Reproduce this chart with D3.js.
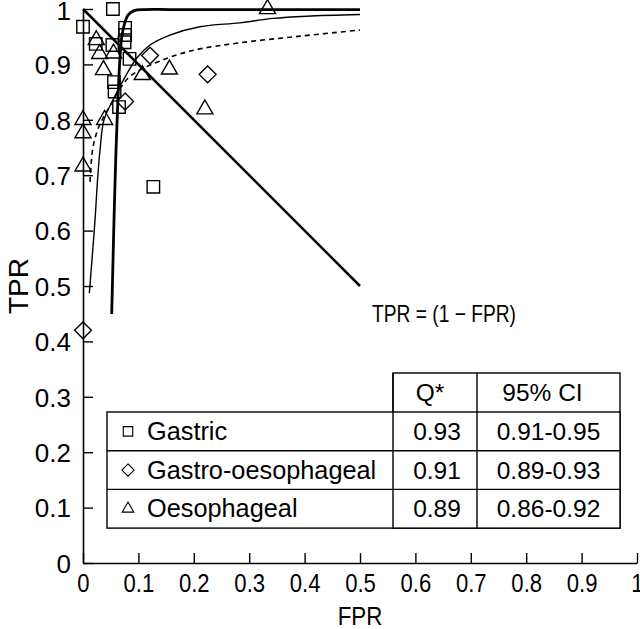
<!DOCTYPE html>
<html>
<head>
<meta charset="utf-8">
<script src="https://cdn.jsdelivr.net/npm/d3@7"></script>
<style>
  html, body { margin: 0; padding: 0; background: #fff; }
  svg { display: block; font-family: "Liberation Sans", Arial, Helvetica, sans-serif; }
</style>
</head>
<body>
<svg id="chart" width="640" height="629"></svg>
<script>
// ---------- DATA ----------
const xTicks = [0, 0.1, 0.2, 0.3, 0.4, 0.5, 0.6, 0.7, 0.8, 0.9, 1];
const yTicks = [0, 0.1, 0.2, 0.3, 0.4, 0.5, 0.6, 0.7, 0.8, 0.9, 1];
const xTickLabels = ["0", "0.1", "0.2", "0.3", "0.4", "0.5", "0.6", "0.7", "0.8", "0.9", "1"];
const yTickLabels = ["0", "0.1", "0.2", "0.3", "0.4", "0.5", "0.6", "0.7", "0.8", "0.9", "1"];

// Gastric studies (squares) [FPR, TPR]
const gastricPoints = [
  [0.000, 0.968], [0.054, 1.000], [0.076, 0.966], [0.076, 0.953], [0.075, 0.940],
  [0.023, 0.937], [0.053, 0.935], [0.084, 0.910], [0.056, 0.868], [0.057, 0.851],
  [0.065, 0.823], [0.127, 0.679]
];
// Gastro-oesophageal studies (diamonds)
const gastroOesPoints = [
  [0.000, 0.420], [0.076, 0.833], [0.121, 0.916], [0.225, 0.882]
];
// Oesophageal studies (triangles)
const oesPoints = [
  [0.333, 1.000], [0.000, 0.800], [0.000, 0.776], [0.000, 0.716],
  [0.024, 0.944], [0.030, 0.919], [0.055, 0.920], [0.037, 0.890],
  [0.107, 0.881], [0.156, 0.891], [0.220, 0.819], [0.039, 0.800]
];

// SROC curves [FPR, TPR]
const srocThick = [
  [0.0518, 0.4495], [0.0542, 0.547], [0.0569, 0.655], [0.0596, 0.745], [0.0623, 0.818],
  [0.0650, 0.881], [0.0677, 0.926], [0.0704, 0.953], [0.0749, 0.973], [0.0812, 0.989],
  [0.0920, 0.997], [0.112, 0.999], [0.157, 0.999], [0.5, 0.999]
];
const srocThin = [
  [0.0114, 0.487], [0.0162, 0.547], [0.0217, 0.619], [0.0262, 0.691], [0.0307, 0.745],
  [0.0379, 0.800], [0.0542, 0.836], [0.0758, 0.877], [0.0975, 0.912], [0.121, 0.935],
  [0.157, 0.953], [0.211, 0.968], [0.283, 0.975], [0.343, 0.983], [0.404, 0.987], [0.5, 0.990]
];
const srocDashed = [
  [0.0126, 0.688], [0.0171, 0.745], [0.0235, 0.773], [0.0307, 0.792], [0.0487, 0.825],
  [0.0812, 0.875], [0.115, 0.896], [0.144, 0.908], [0.175, 0.919], [0.211, 0.928],
  [0.283, 0.939], [0.392, 0.951], [0.5, 0.962]
];
const diagonalLine = [[0, 1], [0.5, 0.5]];
const diagonalLabel = "TPR = (1 \u2212 FPR)";

// Table
const tableHeader = ["", "Q*", "95% CI"];
const tableSeries = ["Gastric", "Gastro-oesophageal", "Oesophageal"];
const tableSymbols = ["square", "diamond", "triangle"];
const tableQ = ["0.93", "0.91", "0.89"];
const tableCI = ["0.91-0.95", "0.89-0.93", "0.86-0.92"];

// ---------- DRAW ----------
const svg = d3.select("#chart");
const x = d3.scaleLinear().domain([0, 1]).range([83, 637]);
const y = d3.scaleLinear().domain([0, 1]).range([563, 9]);

// Axes
const xAxis = d3.axisBottom(x).tickValues(xTicks)
  .tickFormat((d, i) => xTickLabels[i]).tickSizeInner(-10).tickSizeOuter(0).tickPadding(11);
const yAxis = d3.axisLeft(y).tickValues(yTicks)
  .tickFormat((d, i) => yTickLabels[i]).tickSizeInner(-10).tickSizeOuter(0).tickPadding(12);

const gx = svg.append("g").attr("transform", `translate(0,${y(0)})`).call(xAxis);
const gy = svg.append("g").attr("transform", `translate(${x(0)},0)`).call(yAxis);
[gx, gy].forEach(g => {
  g.select(".domain").attr("stroke", "#000").attr("stroke-width", 1.6);
  g.selectAll(".tick line").attr("stroke", "#000").attr("stroke-width", 1.4);
  g.selectAll(".tick text").attr("fill", "#000")
    .attr("font-family", "'Liberation Sans', Arial, sans-serif");
});
gy.selectAll(".tick text").attr("font-size", 26).attr("dy", d => d === 1 ? "0.42em" : "0.36em");
gx.selectAll(".tick text").attr("font-size", 26).attr("transform", "scale(0.85,1)");

// Axis titles
svg.append("text").attr("transform", `translate(${x(0.5)},625) scale(0.86,1)`)
  .attr("text-anchor", "middle").attr("font-size", 26).text("FPR");
svg.append("text").attr("transform", `translate(28,${y(0.5)}) rotate(-90)`)
  .attr("text-anchor", "middle").attr("font-size", 28).text("TPR");

// Lines
const line = d3.line().x(d => x(d[0])).y(d => y(d[1]));
const curveLine = d3.line().x(d => x(d[0])).y(d => y(d[1])).curve(d3.curveCatmullRom.alpha(0.5));

svg.append("path").datum(diagonalLine).attr("d", line)
  .attr("fill", "none").attr("stroke", "#000").attr("stroke-width", 2.5);
svg.append("path").datum(srocThick).attr("d", curveLine)
  .attr("fill", "none").attr("stroke", "#000").attr("stroke-width", 2.8);
svg.append("path").datum(srocThin).attr("d", curveLine)
  .attr("fill", "none").attr("stroke", "#000").attr("stroke-width", 1.4);
svg.append("path").datum(srocDashed).attr("d", curveLine)
  .attr("fill", "none").attr("stroke", "#000").attr("stroke-width", 1.6)
  .attr("stroke-dasharray", "5,4");

svg.append("text").attr("transform", "translate(372,322) scale(0.8,1)")
  .attr("font-size", 24).text(diagonalLabel);

// Markers
const symType = { square: d3.symbolSquare, diamond: d3.symbolDiamond2, triangle: d3.symbolTriangle2 };
function drawPoints(data, type, size) {
  svg.append("g").selectAll("path").data(data).join("path")
    .attr("transform", d => `translate(${x(d[0])},${y(d[1])})`)
    .attr("d", d3.symbol().type(symType[type]).size(size))
    .attr("fill", "none").attr("stroke", "#000").attr("stroke-width", 1.4);
}
drawPoints(gastricPoints, "square", 155);
drawPoints(gastroOesPoints, "diamond", 180);
drawPoints(oesPoints, "triangle", 185);

// Table
const tbl = svg.append("g");
const tL = 107, tR = 620, c1 = 393, c2 = 477, hTop = 373, bTop = 412, rowH = 38.7;
const bBot = bTop + rowH * 3;
const stroke = (sel) => sel.attr("stroke", "#000").attr("stroke-width", 1.4).attr("fill", "none");
stroke(tbl.append("rect").attr("x", c1).attr("y", hTop).attr("width", tR - c1).attr("height", bBot - hTop)).attr("fill", "#fff");
stroke(tbl.append("rect").attr("x", tL).attr("y", bTop).attr("width", tR - tL).attr("height", bBot - bTop)).attr("fill", "#fff");
[c1, c2].forEach(cx => stroke(tbl.append("line").attr("x1", cx).attr("x2", cx).attr("y1", hTop).attr("y2", bBot)));
[1, 2].forEach(i => stroke(tbl.append("line").attr("x1", tL).attr("x2", tR).attr("y1", bTop + rowH * i).attr("y2", bTop + rowH * i)));

const fs = 24.5;
tbl.append("text").attr("x", (c1 + c2) / 2 - 5).attr("y", hTop + rowH / 2 + 8.5).attr("text-anchor", "middle").attr("font-size", fs).text(tableHeader[1]);
tbl.append("text").attr("x", (c2 + tR) / 2 - 6).attr("y", hTop + rowH / 2 + 8.5).attr("text-anchor", "middle").attr("font-size", fs).text(tableHeader[2]);
tableSeries.forEach((s, i) => {
  const cy = bTop + rowH * i + rowH / 2;
  const legSize = { square: 90, diamond: 95, triangle: 95 }[tableSymbols[i]];
  tbl.append("path").attr("transform", `translate(128,${cy})`)
    .attr("d", d3.symbol().type(symType[tableSymbols[i]]).size(legSize))
    .attr("fill", "none").attr("stroke", "#000").attr("stroke-width", 1.1);
  tbl.append("text").attr("x", 147).attr("y", cy + 8.5).attr("font-size", 25.3).text(s);
  tbl.append("text").attr("x", (c1 + c2) / 2 + 2).attr("y", cy + 8.5).attr("text-anchor", "middle").attr("font-size", fs).text(tableQ[i]);
  tbl.append("text").attr("x", (c2 + tR) / 2).attr("y", cy + 8.5).attr("text-anchor", "middle").attr("font-size", fs).text(tableCI[i]);
});
</script>
</body>
</html>
